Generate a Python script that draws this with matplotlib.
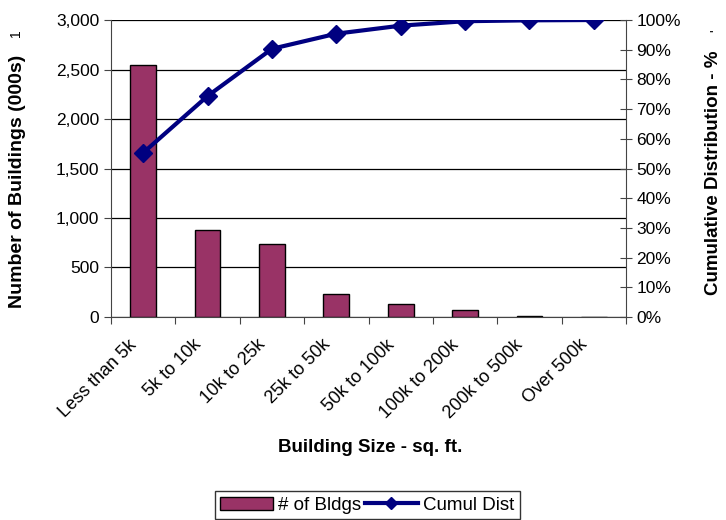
import matplotlib
matplotlib.use("Agg")
import matplotlib.pyplot as plt
from matplotlib.ticker import FuncFormatter, MultipleLocator
from matplotlib.lines import Line2D
from matplotlib.patches import Patch

plt.rcParams["font.family"] = ["Liberation Sans", "DejaVu Sans"]

sizes = ["Less than 5k", "5k to 10k", "10k to 25k", "25k to 50k",
         "50k to 100k", "100k to 200k", "200k to 500k", "Over 500k"]
bldgs = [2545, 879, 734, 232, 128, 71, 14, 2]          # thousands
cumul = [0.553, 0.744, 0.903, 0.954, 0.981, 0.996, 0.999, 1.000]

BAR = "#993366"
LINE = "#000080"
FS = 12.5      # tick text
FSB = 13.5     # bold axis titles

fig = plt.figure(figsize=(7.26, 5.2), dpi=100)
ax = fig.add_axes([0.1529, 0.3904, 0.7094, 0.5711])
x = range(len(sizes))

ax.bar(x, bldgs, width=0.4, color=BAR, edgecolor="black", linewidth=1, zorder=2)
ax.set_xlim(-0.5, len(sizes) - 0.5)
ax.set_ylim(0, 3000)
ax.yaxis.set_major_locator(MultipleLocator(500))
ax.yaxis.set_major_formatter(FuncFormatter(lambda v, _: f"{v:,.0f}"))
ax.grid(axis="y", color="black", lw=0.9, zorder=0)
ax.set_axisbelow(True)
for s in ("top", "right"):
    ax.spines[s].set_visible(False)
ax.spines["left"].set_color("#444444")
ax.spines["bottom"].set_color("#444444")

# category boundaries carry the x tick marks; labels sit under the bars
ax.set_xticks([i - 0.5 for i in range(len(sizes) + 1)])
ax.set_xticklabels([])
ax.tick_params(axis="x", length=5, color="#444444")
for i, lab in enumerate(sizes):
    ax.text(i - 0.14, -0.085, lab, transform=ax.get_xaxis_transform(),
            rotation=45, rotation_mode="anchor", ha="right", va="center",
            fontsize=13)
ax.tick_params(axis="y", labelsize=FS, length=5, color="#444444")
ax.set_ylabel("Number of Buildings (000s)", fontsize=14, fontweight="bold")
ax.yaxis.set_label_coords(-0.165, 0.455)
ax.text(-0.185, 0.955, "1", transform=ax.transAxes, rotation=90,
        fontsize=10, va="center", ha="center")

ax2 = ax.twinx()
ax2.plot(x, cumul, color=LINE, lw=3, marker="D", markersize=9, zorder=3)
ax2.set_ylim(0, 1)
ax2.yaxis.set_major_locator(MultipleLocator(0.1))
ax2.yaxis.set_major_formatter(FuncFormatter(lambda v, _: f"{v:.0%}"))
ax2.tick_params(axis="y", labelsize=FS, direction="inout", length=8,
                color="#444444")
for s in ("top", "left", "bottom"):
    ax2.spines[s].set_visible(False)
ax2.spines["right"].set_color("#444444")
ax2.set_ylabel("Cumulative Distribution - %", fontsize=FSB, fontweight="bold")
ax2.yaxis.set_label_coords(1.153, 0.485)
ax2.text(1.175, 0.965, "'", transform=ax2.transAxes, rotation=90,
         fontsize=10, va="center", ha="center")

fig.text(0.51, 0.140, "Building Size - sq. ft.", fontsize=FSB,
         fontweight="bold", ha="center", va="center")

handles = [Patch(facecolor=BAR, edgecolor="black", linewidth=1),
           Line2D([], [], color=LINE, lw=3, marker="D", markersize=6)]
fig.legend(handles, ["# of Bldgs", "Cumul Dist"], loc="center",
           bbox_to_anchor=(0.506, 0.0285), ncol=2, fontsize=13.5,
           frameon=True, fancybox=False, edgecolor="black",
           handlelength=2.8, handletextpad=0.3, columnspacing=0.2,
           borderpad=0.3)

fig.savefig("out.png", dpi=100)
